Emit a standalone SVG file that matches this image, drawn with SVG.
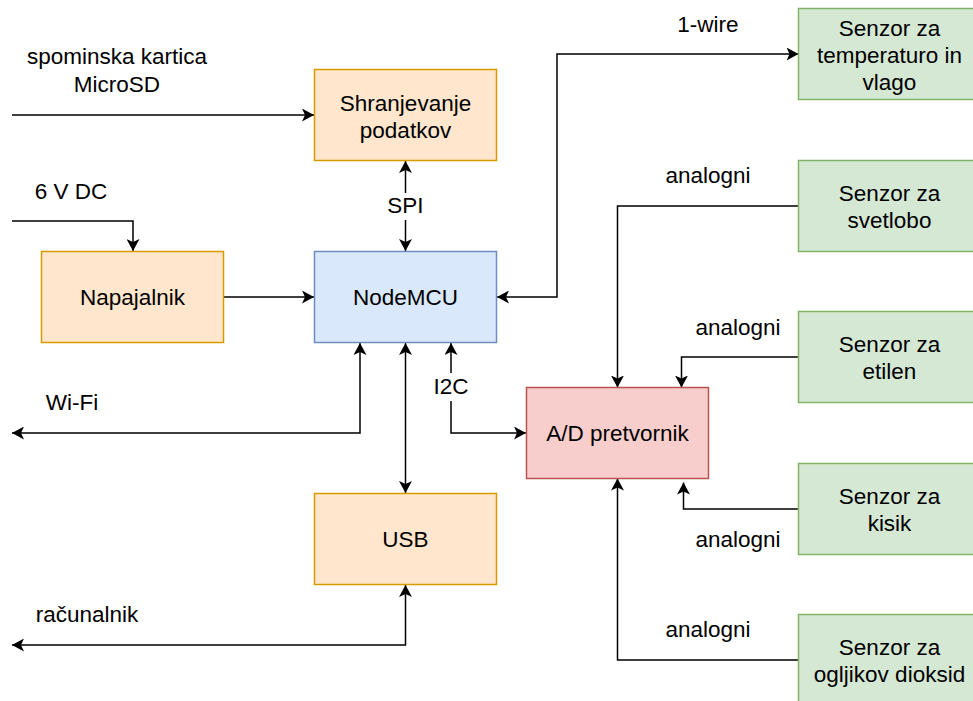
<svg xmlns="http://www.w3.org/2000/svg" width="973" height="701" viewBox="0 0 973 701">
<style>
text{font-family:"Liberation Sans",Arial,Helvetica,sans-serif;font-size:22.5px;fill:#000;text-anchor:middle}
.o{fill:#ffe6cc;stroke:#d79b00;stroke-width:1.5}
.b{fill:#dae8fc;stroke:#6c8ebf;stroke-width:1.5}
.r{fill:#f8cecc;stroke:#b85450;stroke-width:1.5}
.g{fill:#d5e8d4;stroke:#82b366;stroke-width:1.5}
.e{fill:none;stroke:#000;stroke-width:1.5}
.a{marker-end:url(#ar)}
.aa{marker-start:url(#ar);marker-end:url(#ar)}
</style>
<defs>
<marker id="ar" markerUnits="userSpaceOnUse" viewBox="0 0 12 13" markerWidth="12" markerHeight="13" refX="12" refY="6.5" orient="auto-start-reverse">
<path d="M0,0 L12,6.5 L0,13 L3,6.5 Z" fill="#000"/>
</marker>
</defs>
<rect width="973" height="701" fill="#fff"/>
<g id="connectors">
<path class="e a" d="M12,115 H314"/>
<path class="e a" d="M12,221 H133 V251"/>
<path class="e a" d="M224,297 H314"/>
<path class="e aa" d="M405.5,161 V251"/>
<path class="e aa" d="M497,297 H557 V54 H798.5"/>
<path class="e a" d="M798.5,206 H617.5 V387.5"/>
<path class="e a" d="M798.5,357 H681.5 V387.5"/>
<path class="e a" d="M798.5,509 H683.5 V482.5"/>
<path class="e a" d="M798.5,660 H617.5 V478.5"/>
<path class="e aa" d="M451,343 V433 H526"/>
<path class="e aa" d="M360,343 V433 H12"/>
<path class="e aa" d="M405.5,343 V493"/>
<path class="e aa" d="M405.5,585 V645 H12"/>
<rect x="388" y="193" width="36" height="27" fill="#fff"/>
<rect x="432" y="373" width="38" height="28" fill="#fff"/>
<text x="117" y="64">spominska kartica</text>
<text x="117" y="92">MicroSD</text>
<text x="71" y="199">6 V DC</text>
<text x="405.5" y="213">SPI</text>
<text x="708" y="32">1-wire</text>
<text x="708" y="183">analogni</text>
<text x="738" y="335">analogni</text>
<text x="738" y="547">analogni</text>
<text x="708" y="637">analogni</text>
<text x="451" y="394">I2C</text>
<text x="72" y="410">Wi-Fi</text>
<text x="87" y="622">računalnik</text>
</g>
<g id="shranjevanje"><rect class="o" x="314.5" y="69.5" width="182" height="91"/><text x="405.5" y="110.5">Shranjevanje</text><text x="405.5" y="137.5">podatkov</text></g>
<g id="napajalnik"><rect class="o" x="41.5" y="251.5" width="182" height="91"/><text x="132.5" y="305">Napajalnik</text></g>
<g id="nodemcu"><rect class="b" x="314.5" y="251.5" width="182" height="91"/><text x="405.5" y="305">NodeMCU</text></g>
<g id="usb"><rect class="o" x="314.5" y="493.5" width="182" height="91"/><text x="405.5" y="547">USB</text></g>
<g id="ad"><rect class="r" x="526.5" y="387.5" width="182" height="91"/><text x="617.5" y="441">A/D pretvornik</text></g>
<g id="s-temp"><rect class="g" x="798.5" y="8.5" width="182" height="91"/><text x="889.5" y="36">Senzor za</text><text x="889.5" y="63">temperaturo in</text><text x="889.5" y="90">vlago</text></g>
<g id="s-svet"><rect class="g" x="798.5" y="160.5" width="182" height="91"/><text x="889.5" y="200.5">Senzor za</text><text x="889.5" y="227.5">svetlobo</text></g>
<g id="s-etilen"><rect class="g" x="798.5" y="311.5" width="182" height="91"/><text x="889.5" y="351.5">Senzor za</text><text x="889.5" y="378.5">etilen</text></g>
<g id="s-kisik"><rect class="g" x="798.5" y="463.5" width="182" height="91"/><text x="889.5" y="503.5">Senzor za</text><text x="889.5" y="530.5">kisik</text></g>
<g id="s-co2"><rect class="g" x="798.5" y="614.5" width="182" height="91"/><text x="889.5" y="654.5">Senzor za</text><text x="889.5" y="681.5">ogljikov dioksid</text></g>
</svg>
